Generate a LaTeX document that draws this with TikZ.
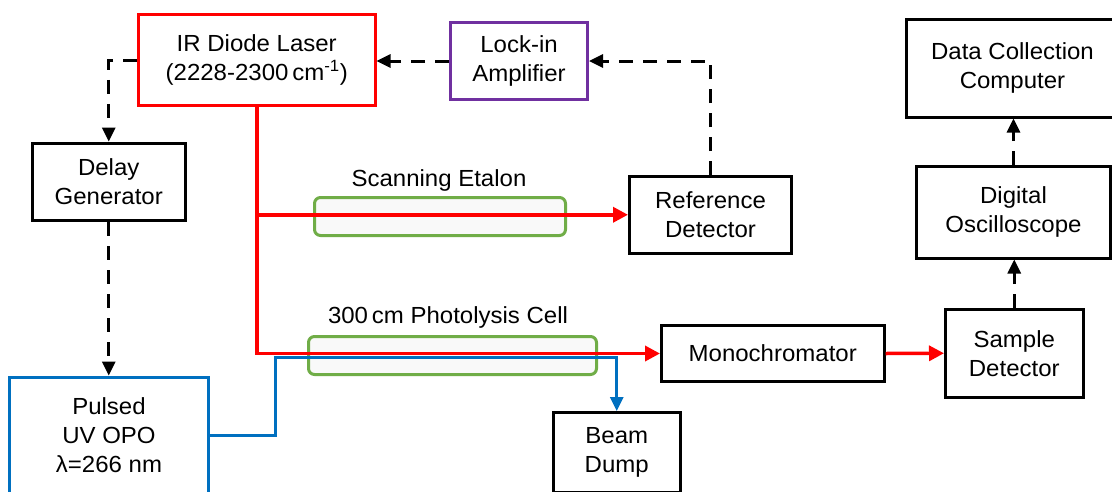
\documentclass[tikz,border=0pt]{standalone}
\usepackage{fontspec}
\setmainfont{Liberation Sans}[FakeStretch=1.03]
\usetikzlibrary{arrows.meta,calc}
\definecolor{irred}{HTML}{FF0000}
\definecolor{lockpurple}{HTML}{7030A0}
\definecolor{uvblue}{HTML}{0070C0}
\definecolor{cellgreen}{HTML}{70AD47}
\definecolor{cellfill}{HTML}{F9F9F9}
\begin{document}
\begin{tikzpicture}[x=1pt,y=-1pt,
  box/.style={draw=black, line width=3pt, align=center, inner sep=0pt,
    font=\fontsize{23.3}{29}\selectfont, fill=white},
  cellbox/.style={draw=cellgreen, fill=cellfill, line width=3pt, rounded corners=6pt, inner sep=0pt},
  lbl/.style={font=\fontsize{23.3}{29}\selectfont, inner sep=0pt},
  dline/.style={line width=3pt, dash pattern=on 14pt off 10pt, -{Triangle[length=14pt,width=13pt]}},
  redline/.style={draw=irred, line width=3.5pt, -{Triangle[length=15pt,width=15pt]}},
  blueline/.style={draw=uvblue, line width=3pt, -{Triangle[length=14pt,width=13pt]}}
]
\clip (0,0) rectangle (1112,491);
\fill[white] (0,0) rectangle (1112,491);

% nodes
\node[box, draw=irred, minimum width=236.5pt, minimum height=91pt] (ir) at (256.75,60)
  {IR Diode Laser\\(2228-2300\,cm\textsuperscript{-1})};
\node[box, draw=lockpurple, minimum width=137pt, minimum height=76.5pt] (lockin) at (519,61)
  {Lock-in\\Amplifier};
\node[box, minimum width=153.5pt, minimum height=77.5pt] (delay) at (108.75,181.75)
  {Delay\\Generator};
\node[box, draw=uvblue, minimum width=198.5pt, minimum height=116pt] (opo) at (109,435)
  {Pulsed\\UV OPO\\λ=266 nm};
\node[box, minimum width=126.5pt, minimum height=80pt] (dump) at (616.75,452.5)
  {Beam\\Dump};
\node[box, minimum width=162pt, minimum height=76.5pt] (ref) at (710.5,214.75)
  {Reference\\Detector};
\node[box, minimum width=222.5pt, minimum height=56pt] (mono) at (772.75,353.5)
  {Monochromator};
\node[box, minimum width=137.5pt, minimum height=87.5pt] (sample) at (1014.25,353.25)
  {Sample\\Detector};
\node[box, minimum width=194pt, minimum height=91.5pt] (osc) at (1013.5,212.25)
  {Digital\\Oscilloscope};
\node[box, minimum width=212pt, minimum height=97.5pt] (data) at (1012.5,68.25)
  {Data Collection\\Computer};

% cells
\node[cellbox, minimum width=251pt, minimum height=38pt] (etalon) at (440,216.5) {};
\node[lbl] (etalonlbl) at (439,180) {Scanning Etalon};
\node[cellbox, minimum width=288pt, minimum height=38pt] (cell) at (452.5,355.5) {};
\node[lbl] (celllbl) at (448,317) {300\,cm Photolysis Cell};

% dashed signal lines
\draw[dline] (ir.west) -- (delay.north |- ir.west) -- (delay.north);
\draw[dline] (delay.south) -- (delay.south |- opo.north);
\draw[dline] (ref.north) -- (ref.north |- lockin.east) -- (lockin.east);
\draw[dline] (lockin.west) -- (ir.east |- lockin.west);
\draw[dline] (sample.north) -- (sample.north |- osc.south);
\draw[dline] (osc.north) -- (osc.north |- data.south);

% IR beam
\draw[redline] (ir.south) -- (ir.south |- mono.west) -- (mono.west);
\draw[redline] (ir.south |- ref.west) -- (ref.west);
\draw[redline] (mono.east) -- (sample.west);

% UV beam
\coordinate (b1) at (275,357);
\draw[blueline] (opo.east) -- (b1 |- opo.east) -- (b1) -- (b1 -| dump.north) -- (dump.north);
\end{tikzpicture}
\end{document}
